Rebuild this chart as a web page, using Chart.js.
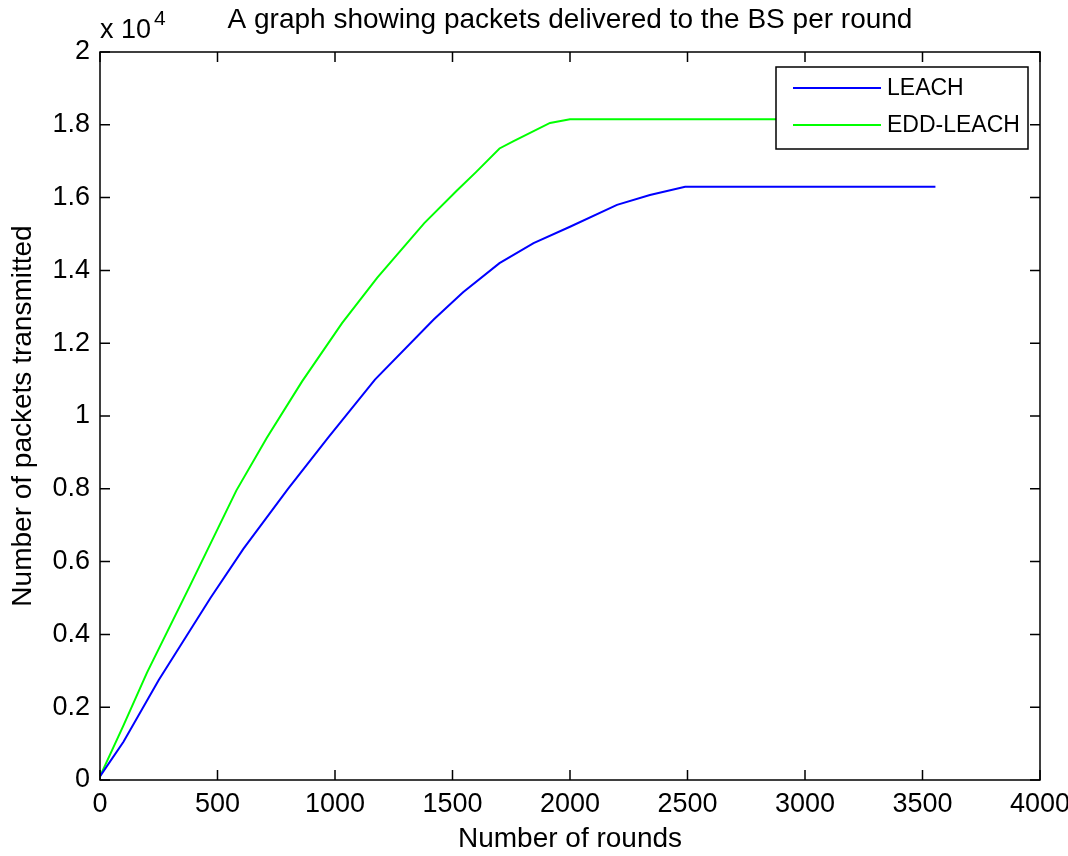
<!DOCTYPE html>
<html>
<head>
<meta charset="utf-8">
<script src="https://cdn.jsdelivr.net/npm/chart.js@4.4.1/dist/chart.umd.min.js"></script>
<style>
  html, body { margin: 0; padding: 0; background: #fff; }
  #wrap { width: 1068px; height: 856px; }
</style>
</head>
<body>
<div id="wrap"><canvas id="packetsChart"></canvas></div>
<script>
// values (packets, not x10^4)
const leachRounds = [0, 100, 250, 470, 610, 800, 970, 1170, 1420, 1545, 1700, 1845, 2000, 2200, 2340, 2490, 3555];
const leachPackets = [100, 1050, 2750, 5000, 6350, 8000, 9400, 11000, 12650, 13400, 14200, 14750, 15200, 15800, 16070, 16300, 16300];
const eddRounds = [0, 100, 200, 380, 580, 710, 860, 1030, 1180, 1380, 1520, 1600, 1700, 1760, 1915, 2000, 3555];
const eddPackets = [100, 1500, 2950, 5300, 7950, 9400, 10950, 12550, 13800, 15300, 16200, 16700, 17350, 17550, 18050, 18150, 18150];

const xTicks = [0, 500, 1000, 1500, 2000, 2500, 3000, 3500, 4000];
const yTicks = [0, 2000, 4000, 6000, 8000, 10000, 12000, 14000, 16000, 18000, 20000];

const FONT = '"Liberation Sans", Arial, sans-serif';

function toPoints(xs, ys) {
    return xs.map((x, i) => ({ x: x, y: ys[i] }));
}

// frame, inside ticks, exponent label, title and legend box (matlab look)
const matlabBits = {
    id: 'matlabBits',
    afterDatasetsDraw(chart) {
        const { ctx, chartArea: a, scales } = chart;
        ctx.save();

        // legend
        const bx = a.right - 264, by = a.top + 15, bw = 252, bh = 82;
        ctx.fillStyle = '#fff';
        ctx.fillRect(bx, by, bw, bh);
        ctx.strokeStyle = '#000';
        ctx.lineWidth = 1.5;
        ctx.strokeRect(bx, by, bw, bh);
        ctx.font = '23px ' + FONT;
        ctx.textBaseline = 'middle';
        ctx.textAlign = 'left';
        chart.data.datasets.forEach((ds, i) => {
            const ly = by + 21 + i * 37;
            ctx.strokeStyle = ds.borderColor;
            ctx.lineWidth = 2;
            ctx.beginPath();
            ctx.moveTo(bx + 17, ly);
            ctx.lineTo(bx + 105, ly);
            ctx.stroke();
            ctx.fillStyle = '#000';
            ctx.fillText(ds.label, bx + 111, ly + 1);
        });

        // axes box
        ctx.strokeStyle = '#000';
        ctx.lineWidth = 1.5;
        ctx.strokeRect(a.left, a.top, a.right - a.left, a.bottom - a.top);

        // inside ticks on all four sides
        const tl = 10;
        ctx.beginPath();
        xTicks.forEach(v => {
            const px = scales.x.getPixelForValue(v);
            ctx.moveTo(px, a.bottom); ctx.lineTo(px, a.bottom - tl);
            ctx.moveTo(px, a.top); ctx.lineTo(px, a.top + tl);
        });
        yTicks.forEach(v => {
            const py = scales.y.getPixelForValue(v);
            ctx.moveTo(a.left, py); ctx.lineTo(a.left + tl, py);
            ctx.moveTo(a.right, py); ctx.lineTo(a.right - tl, py);
        });
        ctx.stroke();

        // x 10^4
        ctx.fillStyle = '#000';
        ctx.textBaseline = 'alphabetic';
        ctx.textAlign = 'left';
        ctx.font = '27px ' + FONT;
        const base = 'x 10';
        ctx.fillText(base, a.left, 38);
        const w = ctx.measureText(base).width;
        ctx.font = '21px ' + FONT;
        ctx.fillText('4', a.left + w + 3, 25);

        // title, centred over the axes
        ctx.font = '28px ' + FONT;
        ctx.textAlign = 'center';
        ctx.fillText('A graph showing packets delivered to the BS per round', (a.left + a.right) / 2, 28);

        ctx.restore();
    }
};

new Chart(document.getElementById('packetsChart'), {
    type: 'line',
    data: {
        datasets: [
            {
                label: 'LEACH',
                data: toPoints(leachRounds, leachPackets),
                borderColor: '#0000ff',
                borderWidth: 2,
                pointRadius: 0,
                tension: 0,
                fill: false
            },
            {
                label: 'EDD-LEACH',
                data: toPoints(eddRounds, eddPackets),
                borderColor: '#00ff00',
                borderWidth: 2,
                pointRadius: 0,
                tension: 0,
                fill: false
            }
        ]
    },
    options: {
        responsive: true,
        maintainAspectRatio: false,
        animation: false,
        events: [],
        layout: { padding: { left: 0, right: 28, top: 52, bottom: 0 } },
        plugins: {
            legend: { display: false },
            title: { display: false },
            tooltip: { enabled: false }
        },
        scales: {
            x: {
                type: 'linear',
                min: 0,
                max: 4000,
                afterBuildTicks: s => { s.ticks = xTicks.map(v => ({ value: v })); },
                afterFit: s => { s.height = 76; s.paddingLeft = 0; s.paddingRight = 0; },
                grid: { display: false, drawTicks: false },
                border: { display: false },
                ticks: {
                    color: '#000',
                    font: { family: FONT, size: 27 },
                    padding: 8,
                    maxRotation: 0,
                    autoSkip: false,
                    callback: v => String(v)
                },
                title: {
                    display: true,
                    text: 'Number of rounds',
                    color: '#000',
                    font: { family: FONT, size: 28 },
                    padding: { top: 0, bottom: 0 }
                }
            },
            y: {
                type: 'linear',
                min: 0,
                max: 20000,
                afterBuildTicks: s => { s.ticks = yTicks.map(v => ({ value: v })); },
                afterFit: s => { s.width = 100; s.paddingTop = 0; s.paddingBottom = 0; },
                grid: { display: false, drawTicks: false },
                border: { display: false },
                ticks: {
                    color: '#000',
                    font: { family: FONT, size: 27 },
                    padding: 10,
                    autoSkip: false,
                    callback: v => String(+(v / 10000).toFixed(1))
                },
                title: {
                    display: true,
                    text: 'Number of packets transmitted',
                    color: '#000',
                    font: { family: FONT, size: 28 },
                    padding: { top: 6, bottom: 0 }
                }
            }
        }
    },
    plugins: [matlabBits]
});
</script>
</body>
</html>
